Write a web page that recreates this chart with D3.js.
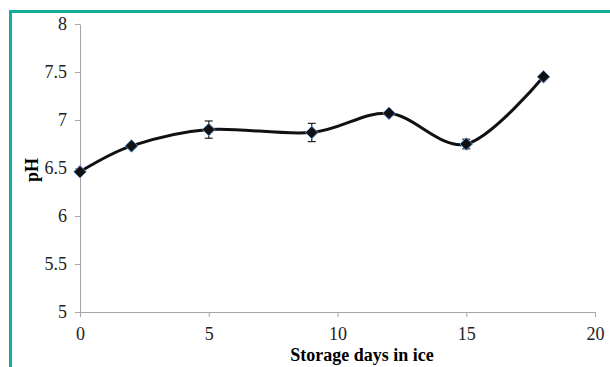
<!DOCTYPE html>
<html>
<head>
<meta charset="utf-8">
<script src="https://cdn.jsdelivr.net/npm/d3@7"></script>
<style>
  body { margin: 0; background: #fff; }
  .tick text { font-family: "Liberation Serif", "Times New Roman", serif; font-size: 18px; fill: #222; }
  .axis path, .axis line { stroke: #a6a6a6; }
</style>
</head>
<body>
<svg id="chart" width="610" height="367"></svg>
<script>
(function(){
    // storage days and measured pH, with error bar half-widths
    const days = [0, 2, 5, 9, 12, 15, 18];
    const ph   = [6.46, 6.73, 6.90, 6.87, 7.07, 6.75, 7.45];
    const err  = [0, 0, 0.09, 0.095, 0.02, 0.05, 0];
    const xTicks = [0, 5, 10, 15, 20];
    const yTicks = [5, 5.5, 6, 6.5, 7, 7.5, 8];

    const svg = d3.select("#chart");

    // teal frame on top and left edges
    svg.append("path")
        .attr("d", "M10.5,367 L10.5,11.5 L610,11.5")
        .attr("fill", "none")
        .attr("stroke", "#16ad98")
        .attr("stroke-width", 3);

    let x = d3.scaleLinear().domain([0, 20]).range([80, 595]);
    let y = d3.scaleLinear().domain([5, 8]).range([312, 24]);

    svg.append("g")
        .attr("class", "axis")
        .attr("transform", "translate(0,312)")
        .call(d3.axisBottom(x).tickValues(xTicks).tickSize(5).tickSizeOuter(0).tickPadding(10));

    svg.append("g")
        .attr("class", "axis")
        .attr("transform", "translate(80,0)")
        .call(d3.axisLeft(y).tickValues(yTicks).tickFormat(d3.format("")).tickSize(5).tickSizeOuter(0).tickPadding(8));

    let pts = days.map((d, i) => ({ d: d, v: ph[i], e: err[i] }));

    let line = d3.line()
        .x(p => x(p.d))
        .y(p => y(p.v))
        .curve(d3.curveCardinal.tension(0));

    svg.append("path")
        .datum(pts)
        .attr("d", line)
        .attr("fill", "none")
        .attr("stroke", "#111")
        .attr("stroke-width", 3);

    // error bars
    let eb = svg.append("g").attr("stroke", "#222").attr("stroke-width", 1.2);
    pts.filter(p => p.e > 0).forEach(p => {
        let cx = x(p.d), y1 = y(p.v + p.e), y2 = y(p.v - p.e);
        eb.append("line").attr("x1", cx).attr("x2", cx).attr("y1", y1).attr("y2", y2);
        eb.append("line").attr("x1", cx - 4).attr("x2", cx + 4).attr("y1", y1).attr("y2", y1);
        eb.append("line").attr("x1", cx - 4).attr("x2", cx + 4).attr("y1", y2).attr("y2", y2);
    });

    svg.append("g")
        .selectAll("path")
        .data(pts)
        .join("path")
        .attr("d", d3.symbol(d3.symbolDiamond2, 100))
        .attr("transform", p => `translate(${x(p.d)},${y(p.v)})`)
        .attr("fill", "#111")
        .attr("stroke", "#5b8fd0")
        .attr("stroke-width", 1);

    svg.append("text")
        .attr("transform", "translate(38,170) rotate(-90)")
        .attr("text-anchor", "middle")
        .attr("font-family", "Liberation Serif, Times New Roman, serif")
        .attr("font-weight", "bold")
        .attr("font-size", 18)
        .text("pH");

    svg.append("text")
        .attr("x", 362)
        .attr("y", 361)
        .attr("text-anchor", "middle")
        .attr("font-family", "Liberation Serif, Times New Roman, serif")
        .attr("font-weight", "bold")
        .attr("font-size", 18)
        .text("Storage days in ice");
})();
</script>
</body>
</html>
